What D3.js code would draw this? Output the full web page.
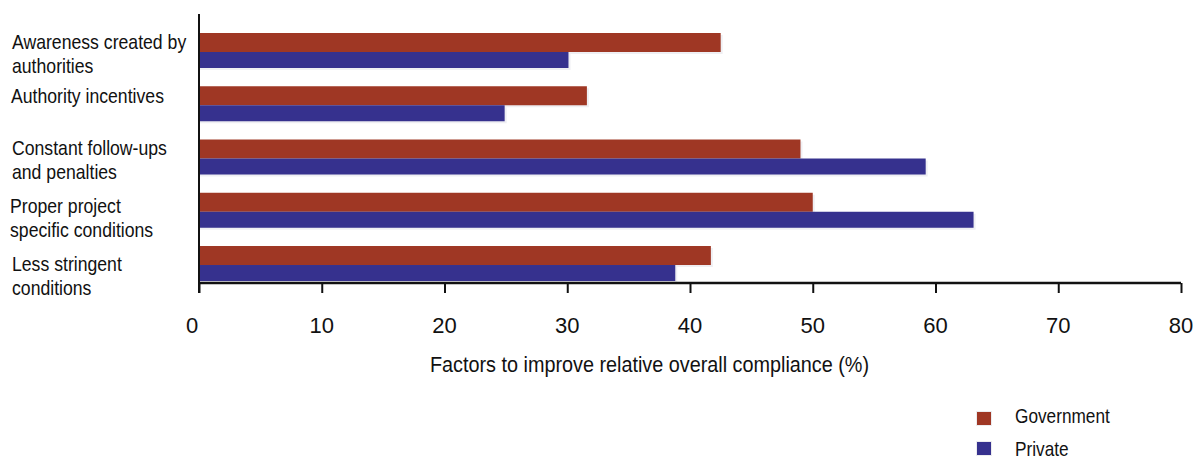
<!DOCTYPE html>
<html>
<head>
<meta charset="utf-8">
<script src="https://cdn.jsdelivr.net/npm/d3@7"></script>
<style>
  html, body { margin: 0; padding: 0; background: #fff; }
  svg { display: block; }
  .narrow { font-family: "Liberation Sans Narrow", "Arial Narrow", "Liberation Sans", sans-serif; fill: #111; }
  .tick-label { font-family: "Liberation Sans", Arial, sans-serif; font-size: 22px; fill: #111; }
</style>
</head>
<body>
<svg id="chart" width="1195" height="459"></svg>
<script>
// Factors that improve overall compliance, government vs private projects (%)
const categories = [
  ["Awareness created by", "authorities"],
  ["Authority incentives"],
  ["Constant follow-ups", "and penalties"],
  ["Proper project", "specific conditions"],
  ["Less stringent", "conditions"]
];
const seriesNames = ["Government", "Private"];
const governmentValues = [42.5, 31.6, 49.0, 50.0, 41.7];
const privateValues = [30.1, 24.9, 59.2, 63.1, 38.8];
const xTicks = [0, 10, 20, 30, 40, 50, 60, 70, 80];
const xTitle = "Factors to improve relative overall compliance (%)";

const colors = { Government: "#9f3724", Private: "#36318e" };
const barHeights = { Government: 19, Private: 16 };

const svg = d3.select("#chart");
const catKeys = categories.map(c => c.join(" "));

const x = d3.scaleLinear().domain([0, 80]).range([199, 1181]);
const y = d3.scaleBand().domain(catKeys).range([33, 281]).paddingInner(0.343).paddingOuter(0);

const rows = catKeys.map((k, i) => ({ key: k, Government: governmentValues[i], Private: privateValues[i] }));

// squeeze a text element horizontally to mimic a condensed face
function condense(node, factor) {
  const len = node.getComputedTextLength();
  d3.select(node).attr("textLength", len * factor).attr("lengthAdjust", "spacingAndGlyphs");
}

// bars with a soft light shadow
const g = svg.append("g");
rows.forEach(r => {
  let offset = 0;
  seriesNames.forEach(s => {
    const top = y(r.key) + offset;
    g.append("rect")
      .attr("x", x(0)).attr("y", top + 2)
      .attr("width", x(r[s]) - x(0) + 2).attr("height", barHeights[s])
      .attr("fill", "#efeff3");
    offset += barHeights[s];
  });
  offset = 0;
  seriesNames.forEach(s => {
    const top = y(r.key) + offset;
    g.append("rect")
      .attr("x", x(0)).attr("y", top)
      .attr("width", x(r[s]) - x(0)).attr("height", barHeights[s])
      .attr("fill", colors[s]);
    offset += barHeights[s];
  });
});

// x axis
const axisY = 283;
const xAxis = svg.append("g").attr("transform", `translate(0,${axisY})`)
  .call(d3.axisBottom(x).tickValues(xTicks).tickSize(10).tickFormat(""));
xAxis.select(".domain").attr("stroke", "#111").attr("stroke-width", 2.5)
  .attr("d", `M${x(0)},0H${x(80)}`);
xAxis.selectAll(".tick line").attr("stroke", "#111").attr("stroke-width", 2);

svg.append("g").selectAll("text").data(xTicks).join("text")
  .attr("class", "tick-label")
  .attr("x", d => x(d) + (d === 0 ? -7 : 0))
  .attr("y", 333)
  .attr("text-anchor", "middle")
  .text(d => d);

// y axis line
svg.append("line")
  .attr("x1", x(0)).attr("x2", x(0))
  .attr("y1", 14).attr("y2", axisY + 10)
  .attr("stroke", "#111").attr("stroke-width", 2);

// category labels
const labelBaseline = [49, 103, 155, 213, 271];
const labelX = [12, 11, 12, 10, 12];
categories.forEach((lines, i) => {
  lines.forEach((ln, j) => {
    const t = svg.append("text").attr("class", "narrow")
      .attr("x", labelX[i]).attr("y", labelBaseline[i] + j * 23.5)
      .style("font-size", "21px")
      .text(ln);
    condense(t.node(), 0.84);
  });
});

// axis title
const title = svg.append("text").attr("class", "narrow")
  .attr("x", 430).attr("y", 372)
  .style("font-size", "22px")
  .text(xTitle);
condense(title.node(), 0.9);

// legend
const legend = svg.append("g");
seriesNames.forEach((s, i) => {
  const yy = 412 + i * 30;
  legend.append("rect").attr("x", 976).attr("y", yy - 1).attr("width", 16).attr("height", 15).attr("fill", "#ececef");
  legend.append("rect").attr("x", 977).attr("y", yy).attr("width", 14).attr("height", 13).attr("fill", colors[s]);
  const t = legend.append("text").attr("class", "narrow")
    .attr("x", 1015).attr("y", 423 + i * 33)
    .style("font-size", "21px")
    .text(s);
  condense(t.node(), 0.82);
});
</script>
</body>
</html>
